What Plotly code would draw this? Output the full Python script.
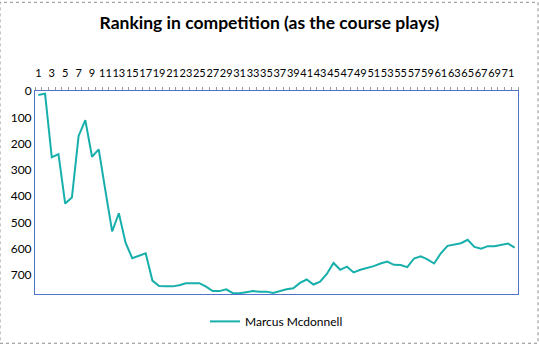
import plotly.graph_objects as go

rounds = list(range(1, 73))
ranking = [15, 10, 252, 240, 428, 405, 171, 111, 250, 222,
           380, 534, 465, 577, 636, 628, 617, 721, 742, 743,
           743, 739, 731, 731, 731, 744, 761, 761, 754, 769,
           769, 765, 761, 763, 763, 768, 761, 754, 750, 730,
           717, 736, 725, 696, 654, 680, 668, 690, 680, 674,
           666, 656, 649, 661, 662, 670, 637, 629, 640, 656,
           617, 589, 584, 579, 566, 593, 600, 590, 590, 586,
           580, 596]
series_name = "Marcus Mcdonnell"
x_ticks = list(range(1, 73, 2))
y_ticks = [0, 100, 200, 300, 400, 500, 600, 700]

fig = go.Figure()
fig.add_trace(go.Scatter(x=rounds, y=ranking, mode="lines", name=series_name,
                         line=dict(color="#17AFAB", width=2)))

fig.update_layout(
    width=539, height=348,
    margin=dict(l=35, r=21, t=91, b=51),
    paper_bgcolor="white", plot_bgcolor="white",
    font=dict(family="Lato, Open Sans, sans-serif", color="#000000"),
    title=dict(text="<b>Ranking in competition (as the course plays)</b>",
               x=0.5, xanchor="center", y=0.935, yanchor="middle",
               font=dict(size=17.5, family="Lato, Open Sans, sans-serif")),
    showlegend=True,
    legend=dict(orientation="h", x=0.5, xanchor="center", y=-0.135, yanchor="middle",
                font=dict(size=12), itemwidth=30),
    xaxis=dict(side="top", range=[0.5, 72.5], tickmode="array", tickvals=x_ticks,
               ticktext=[str(v) for v in x_ticks], ticks="", tickangle=0,
               tickfont=dict(size=11), ticklabelstandoff=9, automargin=False,
               showgrid=False, zeroline=False, showline=True, linecolor="#4F74C9",
               linewidth=1, mirror=True,
               minor=dict(ticks="outside", tick0=0.5, dtick=1, ticklen=3,
                          tickcolor="#9a9a9a", showgrid=False)),
    yaxis=dict(range=[772, 0], tickmode="array", tickvals=y_ticks, ticks="",
               tickfont=dict(size=12), showgrid=False, zeroline=False, automargin=False,
               showline=True, linecolor="#4F74C9", linewidth=1, mirror=True),
)

fig.add_shape(type="rect", xref="paper", yref="paper",
              x0=-35/483, x1=1+20/483, y0=-50/206, y1=1+90/206,
              line=dict(color="#8c8c8c", width=1, dash="dot"))

fig.write_html("out.html")
